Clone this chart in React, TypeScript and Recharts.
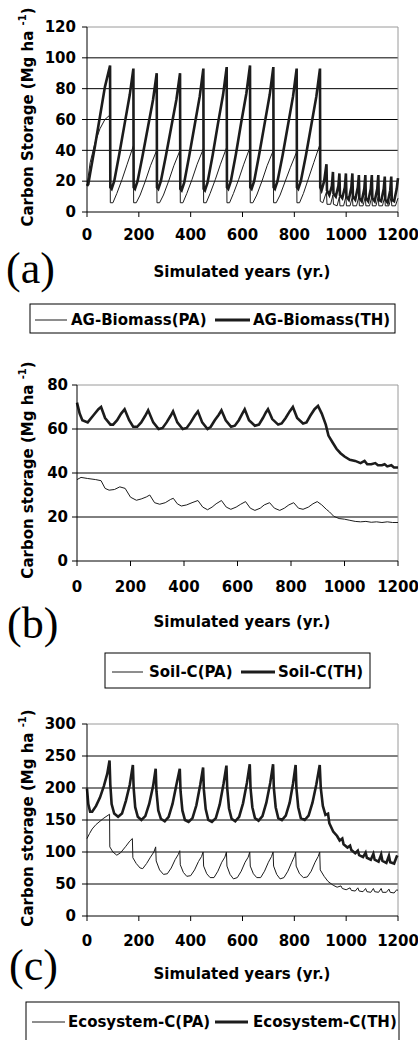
import React from 'react'
import { LineChart, Line, XAxis, YAxis, ReferenceLine } from 'recharts'

// x axis (simulated years) and y tick labels for the three panels
const yearTicks = [0, 200, 400, 600, 800, 1000, 1200]
const agTicks = [0, 20, 40, 60, 80, 100, 120]
const soilTicks = [0, 20, 40, 60, 80]
const ecoTicks = [0, 50, 100, 150, 200, 250, 300]

// (a) above-ground biomass, [year, Mg/ha]
const agPA: [number, number][] = [
  [0, 17], [12, 32], [31, 45], [50, 54], [69, 60], [89, 63], [90, 6],
  [100, 6], [115, 12], [135, 21], [155, 31], [179, 43], [180, 6],
  [190, 6], [205, 11], [225, 20], [245, 30], [269, 40], [270, 6],
  [280, 6], [295, 11], [315, 20], [335, 30], [359, 40], [360, 6],
  [370, 6], [385, 12], [405, 21], [425, 31], [449, 41], [450, 6],
  [460, 6], [475, 12], [495, 21], [515, 31], [539, 42], [540, 6],
  [550, 6], [565, 12], [585, 21], [605, 31], [629, 42], [630, 6],
  [640, 6], [655, 11], [675, 20], [695, 30], [719, 40], [720, 6],
  [730, 6], [745, 11], [765, 20], [785, 29], [809, 39], [810, 6],
  [820, 6], [835, 12], [855, 22], [875, 32], [899, 44], [900, 7],
  [910, 6], [924, 13], [926, 5], [940, 5], [949, 11], [951, 5],
  [965, 4], [974, 10], [976, 4], [990, 4], [999, 10], [1001, 4],
  [1015, 4], [1024, 10], [1026, 4], [1040, 4], [1049, 10], [1051, 4],
  [1065, 4], [1074, 10], [1076, 4], [1090, 4], [1099, 10], [1101, 4],
  [1115, 4], [1124, 10], [1126, 4], [1140, 4], [1149, 10], [1151, 4],
  [1165, 4], [1174, 10], [1176, 4], [1190, 4], [1200, 9],
]
const agTH: [number, number][] = [
  [0, 17], [5, 18], [12, 25], [31, 43], [50, 62], [69, 81], [89, 95], [90, 16],
  [95, 15], [105, 20], [125, 38], [145, 57], [165, 76], [179, 93], [180, 16],
  [185, 15], [195, 20], [215, 37], [235, 55], [255, 73], [269, 90], [270, 16],
  [275, 15], [285, 20], [305, 37], [325, 55], [345, 73], [359, 90], [360, 15],
  [365, 14], [375, 19], [395, 37], [415, 56], [435, 75], [449, 93], [450, 15],
  [455, 14], [465, 19], [485, 37], [505, 57], [525, 76], [539, 94], [540, 16],
  [545, 15], [555, 20], [575, 38], [595, 58], [615, 77], [629, 95], [630, 16],
  [635, 15], [645, 20], [665, 38], [685, 57], [705, 76], [719, 94], [720, 16],
  [725, 15], [735, 20], [755, 37], [775, 56], [795, 75], [809, 93], [810, 16],
  [815, 15], [825, 20], [845, 37], [865, 56], [885, 75], [899, 93], [900, 16],
  [905, 14], [915, 20], [924, 31], [926, 14], [935, 11], [945, 17], [949, 26],
  [951, 12], [960, 10], [970, 17], [974, 25], [976, 11], [985, 9], [995, 16],
  [999, 25], [1001, 10], [1010, 8], [1020, 16], [1024, 25], [1026, 10],
  [1035, 8], [1045, 16], [1049, 24], [1051, 9], [1060, 7], [1070, 15],
  [1074, 24], [1076, 9], [1085, 7], [1095, 15], [1099, 24], [1101, 9],
  [1110, 7], [1120, 15], [1124, 24], [1126, 8], [1135, 7], [1145, 15],
  [1149, 23], [1151, 8], [1160, 6], [1170, 14], [1174, 23], [1176, 8],
  [1185, 7], [1195, 15], [1200, 22],
]

// (b) soil carbon
const soilPA: [number, number][] = [
  [0, 37], [15, 38], [40, 37.5], [70, 37], [90, 36.5], [105, 33], [120, 32.2],
  [140, 32.5], [160, 33.7], [180, 33], [200, 29], [222, 27.6], [240, 28.2],
  [259, 29.1], [272, 30], [290, 26.5], [309, 25.8], [330, 26.5], [350, 28],
  [360, 28.5], [375, 26], [390, 25], [410, 25.5], [430, 26.5], [452, 27.5],
  [470, 24.5], [488, 23.3], [505, 24.5], [520, 26], [540, 27.5], [558, 24.5],
  [575, 23.5], [595, 24.5], [612, 25.8], [630, 27], [648, 24], [665, 23],
  [685, 24], [700, 25.5], [720, 26.5], [738, 24], [758, 23], [775, 24],
  [792, 25.5], [810, 26.5], [828, 24], [845, 23.5], [865, 24.5], [882, 26],
  [898, 27], [915, 25.5], [932, 23.5], [944, 22.3], [960, 20.3], [980, 19.3],
  [1000, 19], [1020, 18.5], [1040, 18], [1060, 17.8], [1080, 18], [1100, 17.6],
  [1120, 17.8], [1140, 17.5], [1160, 17.8], [1180, 17.5], [1200, 17.5],
]
const soilTH: [number, number][] = [
  [0, 72], [10, 67], [20, 64], [40, 63], [60, 66], [80, 69], [90, 70],
  [105, 65], [125, 62], [135, 62], [150, 64], [165, 67], [178, 69],
  [195, 64], [210, 61], [225, 61], [240, 63], [255, 66], [266, 68.5],
  [285, 63], [305, 60], [320, 60.5], [335, 63], [350, 66], [359, 68],
  [375, 63], [395, 60], [410, 60.5], [425, 63], [440, 66], [452, 68],
  [468, 63], [488, 60], [500, 61], [515, 64], [530, 66.5], [540, 68.5],
  [556, 64], [576, 61], [590, 61.5], [605, 64], [618, 67], [627, 69],
  [643, 64], [665, 61.5], [680, 62], [695, 65], [706, 67.5], [714, 69],
  [730, 64.5], [752, 62], [765, 62.5], [780, 65], [795, 68], [807, 70],
  [823, 65], [845, 62.5], [858, 63], [872, 66], [888, 69], [901, 70.5],
  [915, 67], [930, 62], [940, 57], [955, 54], [970, 51], [985, 49],
  [1000, 47.5], [1020, 46], [1040, 45.5], [1060, 44.5], [1075, 45.5],
  [1085, 44], [1100, 44], [1115, 44.5], [1125, 43.5], [1140, 43.5],
  [1150, 44], [1160, 43], [1175, 43.5], [1185, 42.5], [1200, 42.5],
]

// (c) ecosystem carbon
const ecoPA: [number, number][] = [
  [0, 121], [10, 129], [20, 136], [35, 143], [50, 148], [65, 153], [87, 159],
  [88, 108], [100, 100], [115, 95], [130, 99], [150, 109], [165, 117], [175, 121],
  [177, 91], [190, 82], [205, 75], [215, 74], [230, 82], [245, 92], [258, 100], [265, 108],
  [267, 86], [280, 72], [295, 65], [310, 66], [325, 75], [340, 88], [352, 96], [358, 102],
  [360, 80], [372, 68], [385, 62], [400, 63], [415, 72], [430, 85], [442, 93], [448, 100],
  [450, 78], [462, 66], [475, 60], [490, 60], [505, 70], [520, 84], [532, 92], [538, 100],
  [540, 78], [552, 65], [565, 58], [580, 60], [595, 70], [610, 84], [622, 92], [628, 100],
  [630, 78], [642, 66], [655, 60], [670, 60], [685, 70], [700, 84], [712, 93], [718, 100],
  [720, 78], [732, 65], [745, 58], [760, 60], [775, 70], [790, 84], [800, 93], [805, 100],
  [807, 78], [820, 66], [835, 60], [850, 61], [865, 70], [880, 84], [892, 93], [898, 100],
  [900, 72], [915, 62], [930, 54], [950, 48], [965, 45], [980, 47], [985, 43],
  [1000, 41], [1015, 44], [1020, 40], [1035, 39], [1045, 44], [1050, 39],
  [1065, 38], [1075, 43], [1080, 38], [1095, 37], [1105, 43], [1110, 38],
  [1125, 37], [1135, 43], [1140, 37], [1155, 37], [1165, 42], [1170, 37],
  [1185, 36], [1195, 41], [1200, 40],
]
const ecoTH: [number, number][] = [
  [0, 199], [5, 175], [12, 163], [20, 163], [35, 172], [50, 185], [65, 203], [78, 222], [87, 243],
  [90, 205], [95, 175], [105, 160], [120, 155], [135, 160], [150, 180], [165, 205], [177, 236],
  [180, 200], [186, 170], [196, 155], [210, 150], [225, 156], [240, 175], [255, 203], [265, 230],
  [268, 195], [275, 165], [285, 152], [300, 148], [315, 155], [330, 175], [345, 205], [358, 230],
  [361, 195], [368, 165], [378, 150], [392, 147], [407, 153], [422, 173], [437, 205], [448, 232],
  [451, 197], [458, 167], [468, 150], [482, 147], [497, 153], [512, 174], [527, 207], [538, 235],
  [541, 200], [548, 168], [558, 152], [572, 148], [587, 155], [602, 176], [617, 208], [628, 237],
  [631, 200], [638, 170], [648, 153], [662, 149], [677, 156], [692, 177], [707, 208], [718, 237],
  [721, 200], [728, 170], [738, 153], [752, 150], [767, 157], [782, 177], [795, 207], [805, 236],
  [808, 200], [815, 170], [825, 153], [840, 150], [855, 157], [870, 177], [885, 206], [898, 236],
  [902, 200], [910, 172], [920, 158], [930, 160], [935, 145], [950, 132], [965, 125],
  [975, 118], [985, 121], [990, 112], [1005, 107], [1015, 110], [1020, 103],
  [1035, 98], [1045, 102], [1050, 95], [1065, 92], [1075, 99], [1080, 91],
  [1095, 88], [1105, 97], [1110, 88], [1125, 85], [1135, 96], [1140, 86],
  [1155, 83], [1165, 94], [1170, 84], [1185, 82], [1195, 93], [1200, 92],
]

const SANS = 'DejaVu Sans, Arial, sans-serif'
const INK = '#1c1c1c'
const tickStyle = { fontSize: 15, fontWeight: 'bold', fill: '#000', fontFamily: SANS }

const rows = (pts: [number, number][]) => pts.map(([year, v]) => ({ year, v }))

type PanelProps = {
  top: number
  height: number
  marginTop: number
  marginBottom: number
  yWidth: number
  yTicks: number[]
  xTickGap: number
  yTickGap: number
  pa: [number, number][]
  th: [number, number][]
}

function Panel(p: PanelProps) {
  const yMax = p.yTicks[p.yTicks.length - 1]
  return (
    <div style={{ position: 'absolute', left: 0, top: p.top }}>
      <LineChart
        width={418}
        height={p.height}
        margin={{ top: p.marginTop, right: 20, bottom: p.marginBottom, left: 0 }}
      >
        <XAxis
          type="number"
          dataKey="year"
          domain={[0, 1200]}
          ticks={yearTicks}
          interval={0}
          height={30}
          tickSize={5}
          tickMargin={p.xTickGap}
          stroke="#000"
          tick={tickStyle}
        />
        <YAxis
          type="number"
          domain={[0, yMax]}
          ticks={p.yTicks}
          interval={0}
          width={p.yWidth}
          tickSize={5}
          tickMargin={p.yTickGap}
          stroke="#000"
          tick={tickStyle}
        />
        {p.yTicks.slice(1, -1).map((t) => (
          <ReferenceLine key={t} y={t} stroke="#000" strokeWidth={1} />
        ))}
        <ReferenceLine y={yMax} stroke="#9a9a9a" />
        <ReferenceLine x={1200} stroke="#9a9a9a" />
        <Line
          data={rows(p.pa)}
          dataKey="v"
          type="linear"
          stroke={INK}
          strokeWidth={1}
          dot={false}
          isAnimationActive={false}
        />
        <Line
          data={rows(p.th)}
          dataKey="v"
          type="linear"
          stroke={INK}
          strokeWidth={2.6}
          dot={false}
          isAnimationActive={false}
        />
      </LineChart>
    </div>
  )
}

function YTitle({ x, cy, text }: { x: number; cy: number; text: string }) {
  return (
    <text
      transform={`translate(${x},${cy}) rotate(-90)`}
      textAnchor="middle"
      fontFamily={SANS}
      fontWeight="bold"
      fontSize={15}
      fill="#000"
    >
      {text}
      <tspan dy={-7} fontSize={10}>-1</tspan>
      <tspan dy={7}>)</tspan>
    </text>
  )
}

function LegendBox(props: {
  x: number
  y: number
  w: number
  h: number
  lineY: number
  baseY: number
  l1: [number, number]
  t1: number
  l2: [number, number]
  t2: number
  names: [string, string]
}) {
  const { x, y, w, h, lineY, baseY, l1, t1, l2, t2, names } = props
  return (
    <g>
      <rect x={x} y={y} width={w} height={h} fill="none" stroke="#000" strokeWidth={1} />
      <line x1={l1[0]} x2={l1[1]} y1={lineY} y2={lineY} stroke={INK} strokeWidth={1} />
      <text x={t1} y={baseY} fontFamily={SANS} fontWeight="bold" fontSize={15} fill="#000">
        {names[0]}
      </text>
      <line x1={l2[0]} x2={l2[1]} y1={lineY} y2={lineY} stroke={INK} strokeWidth={3} />
      <text x={t2} y={baseY} fontFamily={SANS} fontWeight="bold" fontSize={15} fill="#000">
        {names[1]}
      </text>
    </g>
  )
}

const serif = { fontFamily: 'Liberation Serif, Times New Roman, serif', fontSize: 44, fill: '#000' }
const xTitle = { fontFamily: SANS, fontWeight: 'bold', fontSize: 15, fill: '#000', textAnchor: 'middle' as const }

export default function App() {
  return (
    <div style={{ position: 'absolute', left: 0, top: 0, width: 418, height: 1040, background: '#fff', overflow: 'hidden' }}>
      <Panel top={0} height={250} marginTop={27} marginBottom={8} yWidth={87}
        yTicks={agTicks} xTickGap={12} yTickGap={6} pa={agPA} th={agTH} />
      <Panel top={360} height={240} marginTop={25} marginBottom={9} yWidth={77}
        yTicks={soilTicks} xTickGap={15} yTickGap={4} pa={soilPA} th={soilTH} />
      <Panel top={700} height={255} marginTop={24} marginBottom={9} yWidth={87}
        yTicks={ecoTicks} xTickGap={14} yTickGap={6} pa={ecoPA} th={ecoTH} />

      <svg width={418} height={1040} style={{ position: 'absolute', left: 0, top: 0, pointerEvents: 'none' }}>
        <YTitle x={33} cy={117} text="Carbon Storage (Mg ha " />
        <YTitle x={33} cy={470} text="Carbon storage (Mg ha " />
        <YTitle x={33} cy={818} text="Carbon storage (Mg ha " />

        <text x={242} y={277} {...xTitle}>Simulated years (yr.)</text>
        <text x={242} y={627} {...xTitle}>Simulated years (yr.)</text>
        <text x={242} y={979} {...xTitle}>Simulated years (yr.)</text>

        <text x={6} y={283} {...serif}>(a)</text>
        <text x={7} y={638} {...serif}>(b)</text>
        <text x={9} y={980} {...serif}>(c)</text>

        <LegendBox x={30} y={304} w={365} h={29} lineY={320} baseY={325}
          l1={[35, 67]} t1={71} l2={[215, 250]} t2={253}
          names={['AG-Biomass(PA)', 'AG-Biomass(TH)']} />
        <LegendBox x={105} y={653} w={265} h={35} lineY={672} baseY={677}
          l1={[112, 143]} t1={149} l2={[241, 275]} t2={278}
          names={['Soil-C(PA)', 'Soil-C(TH)']} />
        <LegendBox x={26} y={1002} w={373} h={45} lineY={1022} baseY={1027}
          l1={[32, 65]} t1={68} l2={[215, 248]} t2={253}
          names={['Ecosystem-C(PA)', 'Ecosystem-C(TH)']} />
      </svg>
    </div>
  )
}
